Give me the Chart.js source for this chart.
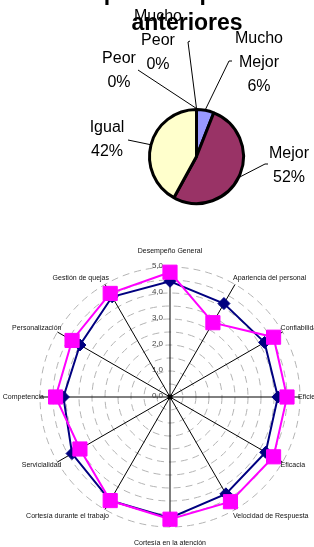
<!DOCTYPE html>
<html><head><meta charset="utf-8">
<script src="https://cdn.jsdelivr.net/npm/chart.js@4/dist/chart.umd.min.js"></script>
<style>
html,body{margin:0;padding:0;background:#fff;overflow:hidden;width:314px;height:547px;}
#pie{position:absolute;left:0;top:0;}
#radar{position:absolute;left:0;top:230px;}
</style></head><body>
<canvas id="pie" width="314" height="232"></canvas>
<canvas id="radar" width="314" height="317"></canvas>
<script>
// ---------- data ----------
const titleLines = ['Desempeño respecto a los', 'anteriores'];
const pieCategories = ['Mucho Mejor', 'Mejor', 'Igual', 'Peor', 'Mucho Peor'];
const pieValues = [6, 52, 42, 0, 0];

const radarCategories = ['Desempeño General', 'Apariencia del personal', 'Confiabilidad', 'Eficiencia',
  'Eficacia', 'Velocidad de Respuesta', 'Cortesía en la atención', 'Cortesía durante el trabajo',
  'Servicialidad', 'Competencia', 'Personalización', 'Gestión de quejas'];
const seriesNavy = [4.45, 4.15, 4.2, 4.15, 4.25, 4.3, 4.65, 4.6, 4.35, 4.1, 4.0, 4.45];
const seriesPink = [4.8, 3.3, 4.6, 4.5, 4.6, 4.65, 4.7, 4.6, 4.0, 4.4, 4.35, 4.6];
const radarTickValues = [0, 1, 2, 3, 4, 5];

// ---------- styles ----------
const FONT = '"Liberation Sans", Arial, sans-serif';
const pieColors = ['#9999FF', '#993366', '#FFFFCC', '#FFFFFF', '#FFFFFF'];
// label placement per slice: centre x, first-line y, leader start point
const pieLabelPlace = [
  {x: 259, y: 39, lead: [[232, 61], [229, 61]]},
  {x: 289, y: 154, lead: [[268, 164], [265, 164]]},
  {x: 107, y: 128, lead: [[128, 140]]},
  {x: 119, y: 59, lead: [[138, 70]]},
  {x: 158, y: 17, lead: [[190, 41], [188, 42]]}
];

const pieLabelsPlugin = {
  id: 'pieLabels',
  afterDraw(chart) {
    const ctx = chart.ctx;
    const meta = chart.getDatasetMeta(0);
    const total = pieValues.reduce((a, b) => a + b, 0);
    ctx.save();
    // title
    ctx.fillStyle = '#000';
    ctx.font = 'bold 23px ' + FONT;
    ctx.textAlign = 'center';
    ctx.textBaseline = 'alphabetic';
    ctx.fillText(titleLines[0], 174, 0);
    ctx.fillText(titleLines[1], 187, 30);
    // labels
    ctx.font = '16px ' + FONT;
    ctx.textBaseline = 'middle';
    meta.data.forEach((arc, i) => {
      const p = arc.getProps(['x', 'y', 'startAngle', 'endAngle', 'outerRadius'], true);
      const mid = (p.startAngle + p.endAngle) / 2;
      const ex = p.x + Math.cos(mid) * (p.outerRadius + 1);
      const ey = p.y + Math.sin(mid) * (p.outerRadius + 1);
      const place = pieLabelPlace[i];
      ctx.strokeStyle = '#000';
      ctx.lineWidth = 1;
      ctx.beginPath();
      place.lead.forEach((pt, k) => { if (k === 0) ctx.moveTo(pt[0], pt[1]); else ctx.lineTo(pt[0], pt[1]); });
      ctx.lineTo(ex, ey);
      ctx.stroke();
      const lines = pieCategories[i].split(' ').concat([Math.round(pieValues[i] / total * 100) + '%']);
      lines.forEach((t, k) => ctx.fillText(t, place.x, place.y + k * 24));
    });
    ctx.restore();
  }
};

new Chart(document.getElementById('pie'), {
  type: 'pie',
  data: {
    labels: pieCategories,
    datasets: [{data: pieValues, backgroundColor: pieColors, borderColor: '#000', borderWidth: 3}]
  },
  options: {
    responsive: false, animation: false,
    layout: {padding: {left: 148, right: 69, top: 108, bottom: 27}},
    plugins: {legend: {display: false}, tooltip: {enabled: false}}
  },
  plugins: [pieLabelsPlugin]
});

// ---------- radar ----------
const radarDecor = {
  id: 'radarDecor',
  beforeDatasetsDraw(chart) {
    const s = chart.scales.r;
    const ctx = chart.ctx;
    ctx.save();
    ctx.font = '8px ' + FONT;
    ctx.fillStyle = '#444';
    ctx.textAlign = 'right';
    ctx.textBaseline = 'middle';
    radarTickValues.forEach(v => {
      const d = s.getDistanceFromCenterForValue(v);
      ctx.fillText(v.toFixed(1).replace('.', ','), s.xCenter - 7, s.yCenter - d - 1);
    });
    ctx.restore();
  },
  afterDraw(chart) {
    const s = chart.scales.r;
    const ctx = chart.ctx;
    ctx.save();
    ctx.fillStyle = '#000';
    ctx.beginPath();
    ctx.arc(s.xCenter, s.yCenter, 2.5, 0, Math.PI * 2);
    ctx.fill();
    ctx.font = '7px ' + FONT;
    ctx.fillStyle = '#111';
    ctx.textBaseline = 'middle';
    const n = radarCategories.length;
    radarCategories.forEach((lab, i) => {
      const p = s.getPointPosition(i, s.drawingArea);
      const ang = i / n * Math.PI * 2;
      const sn = Math.sin(ang), cs = Math.cos(ang);
      let x = p.x, y = p.y;
      if (Math.abs(sn) < 0.01) {
        ctx.textAlign = 'center';
        y = p.y - 16 * cs;
      } else if (sn > 0) {
        ctx.textAlign = 'left';
        x = p.x - 2;
        y = p.y - 7 * cs;
      } else {
        ctx.textAlign = 'right';
        x = p.x + 4;
        y = p.y - 7 * cs;
      }
      ctx.fillText(lab, x, y);
    });
    ctx.restore();
  }
};

new Chart(document.getElementById('radar'), {
  type: 'radar',
  data: {
    labels: radarCategories,
    datasets: [
      {label: 'B', data: seriesPink, borderColor: '#FF00FF', backgroundColor: 'rgba(0,0,0,0)', fill: false,
        borderWidth: 2, pointStyle: 'rect', pointRadius: 10, pointBackgroundColor: '#FF00FF',
        pointBorderColor: '#FF00FF', pointBorderWidth: 1},
      {label: 'A', data: seriesNavy, borderColor: '#000080', backgroundColor: 'rgba(0,0,0,0)', fill: false,
        borderWidth: 2, pointStyle: 'rectRot', pointRadius: 6, pointBackgroundColor: '#000080',
        pointBorderColor: '#000080', pointBorderWidth: 1}
    ]
  },
  options: {
    responsive: false, animation: false,
    layout: {padding: {left: 40, right: 14, top: 37, bottom: 20}},
    elements: {line: {tension: 0}},
    plugins: {legend: {display: false}, tooltip: {enabled: false}},
    scales: {
      r: {
        min: 0, max: 5,
        ticks: {display: false, stepSize: 0.5},
        grid: {circular: true, color: '#b4b4b4', lineWidth: 1},
        border: {dash: [7, 5]},
        angleLines: {color: '#000', lineWidth: 1},
        pointLabels: {display: false}
      }
    }
  },
  plugins: [radarDecor]
});
</script>
</body></html>
